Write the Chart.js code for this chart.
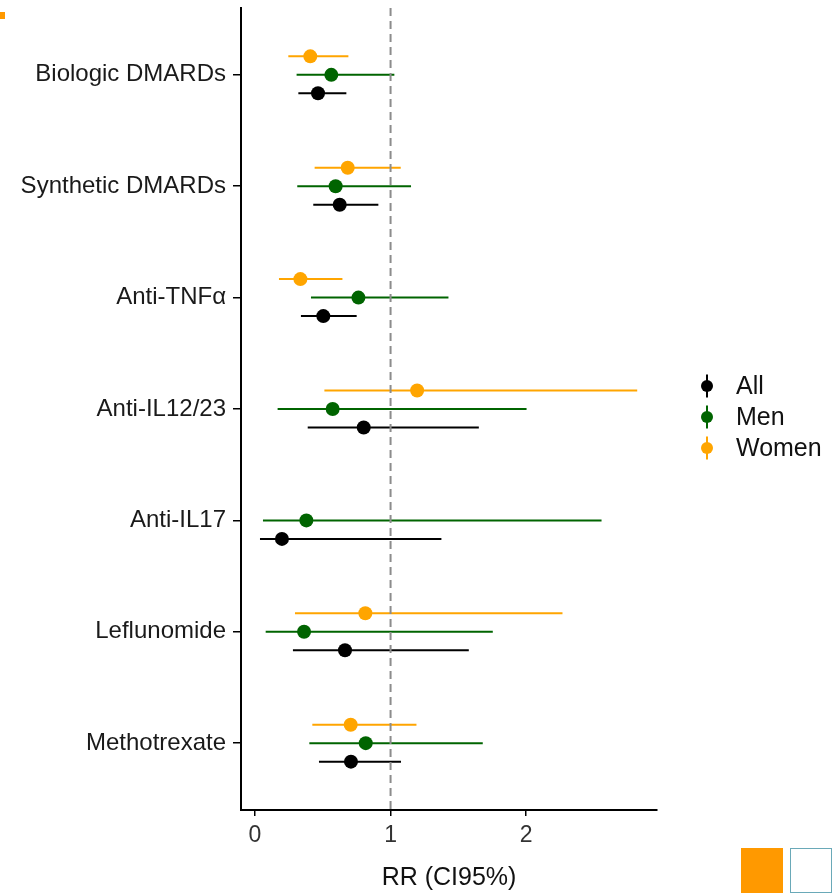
<!DOCTYPE html>
<html>
<head>
<meta charset="utf-8">
<script src="https://cdn.jsdelivr.net/npm/chart.js@4.4.1/dist/chart.umd.min.js"></script>
<style>
  body { margin: 0; background: #fff; }
  #wrap { position: relative; width: 840px; height: 893px; }
  .mark { position: absolute; }
</style>
</head>
<body>
<div id="wrap">
  <canvas id="forest" width="840" height="893"></canvas>
  <div class="mark" style="left:0;top:12px;width:5px;height:7px;background:#ff9900;"></div>
  <div class="mark" style="left:741px;top:848px;width:42px;height:45px;background:#ff9900;"></div>
  <div class="mark" style="left:790px;top:848px;width:40px;height:43px;border:1px solid #6aa9b8;background:#fff;"></div>
</div>
<script>
// drug groups, top to bottom
const categories = ['Biologic DMARDs', 'Synthetic DMARDs', 'Anti-TNFα', 'Anti-IL12/23', 'Anti-IL17', 'Leflunomide', 'Methotrexate'];

const allRR = [0.465, 0.625, 0.504, 0.802, 0.199, 0.664, 0.708];
const allLo = [0.320, 0.430, 0.339, 0.389, 0.037, 0.280, 0.472];
const allHi = [0.674, 0.910, 0.750, 1.651, 1.375, 1.577, 1.077];

const menRR = [0.563, 0.595, 0.763, 0.573, 0.379, 0.362, 0.817];
const menLo = [0.307, 0.312, 0.413, 0.167, 0.059, 0.079, 0.401];
const menHi = [1.028, 1.151, 1.427, 2.003, 2.556, 1.754, 1.680];

// no women estimate for Anti-IL17
const womenRR = [0.408, 0.684, 0.335, 1.196, null, 0.814, 0.706];
const womenLo = [0.246, 0.440, 0.177, 0.512, null, 0.295, 0.423];
const womenHi = [0.689, 1.075, 0.645, 2.819, null, 2.268, 1.191];

const xTicks = [0, 1, 2];
const refLine = 1;

const groups = [
  { label: 'All', color: '#000000', rr: allRR, lo: allLo, hi: allHi, dodge: 0.166 },
  { label: 'Men', color: '#006400', rr: menRR, lo: menLo, hi: menHi, dodge: 0 },
  { label: 'Women', color: '#FFA500', rr: womenRR, lo: womenLo, hi: womenHi, dodge: -0.166 }
];

const makePoints = (g) => {
  let pts = [];
  categories.forEach((c, i) => {
    if (g.rr[i] === null) return;
    pts.push({ x: g.rr[i], y: i + 1 + g.dodge, lo: g.lo[i], hi: g.hi[i] });
  });
  return pts;
};

// horizontal CI lines, drawn under the points
const ciBars = {
  id: 'ciBars',
  beforeDatasetsDraw: (chart) => {
    const ctx = chart.ctx;
    const xs = chart.scales.x, ys = chart.scales.y;
    ctx.save();
    chart.data.datasets.forEach((ds) => {
      ctx.strokeStyle = ds.backgroundColor;
      ctx.lineWidth = 2;
      ds.data.forEach((p) => {
        const y = ys.getPixelForValue(p.y);
        ctx.beginPath();
        ctx.moveTo(xs.getPixelForValue(p.lo), y);
        ctx.lineTo(xs.getPixelForValue(p.hi), y);
        ctx.stroke();
      });
    });
    ctx.restore();
  },
  afterDatasetsDraw: (chart) => {
    // dashed reference line at RR = 1
    const ctx = chart.ctx;
    const a = chart.chartArea;
    const x = chart.scales.x.getPixelForValue(refLine);
    ctx.save();
    ctx.strokeStyle = '#8c8c8c';
    ctx.lineWidth = 2;
    ctx.setLineDash([8, 5]);
    ctx.beginPath();
    ctx.moveTo(x, a.top);
    ctx.lineTo(x, a.bottom);
    ctx.stroke();
    ctx.restore();
  }
};

// legend with pointrange-style keys
const rangeLegend = {
  id: 'rangeLegend',
  afterDraw: (chart) => {
    const ctx = chart.ctx;
    const x0 = 707, y0 = 386, step = 31;
    ctx.save();
    groups.forEach((g, i) => {
      const y = y0 + i * step;
      ctx.strokeStyle = g.color;
      ctx.fillStyle = g.color;
      ctx.lineWidth = 2;
      ctx.beginPath();
      ctx.moveTo(x0, y - 11.5);
      ctx.lineTo(x0, y + 11.5);
      ctx.stroke();
      ctx.beginPath();
      ctx.arc(x0, y, 6, 0, Math.PI * 2);
      ctx.fill();
      ctx.fillStyle = '#111';
      ctx.font = '25px "Liberation Sans", Arial, sans-serif';
      ctx.textBaseline = 'middle';
      ctx.textAlign = 'left';
      ctx.fillText(g.label, 736, y + 1);
    });
    ctx.restore();
  }
};

new Chart(document.getElementById('forest'), {
  type: 'scatter',
  data: {
    datasets: groups.map((g) => ({
      label: g.label,
      data: makePoints(g),
      backgroundColor: g.color,
      borderWidth: 0,
      pointRadius: 7,
      pointHoverRadius: 7
    }))
  },
  options: {
    responsive: false,
    animation: false,
    events: [],
    layout: { padding: { top: 8, right: 183, bottom: 0, left: 0 } },
    plugins: {
      legend: { display: false },
      tooltip: { enabled: false }
    },
    scales: {
      x: {
        type: 'linear',
        min: -0.103,
        max: 2.965,
        afterBuildTicks: (scale) => { scale.ticks = xTicks.map((v) => ({ value: v })); },
        afterFit: (scale) => {
          scale.height = 83;
          scale.paddingLeft = 0;
          scale.paddingRight = 0;
        },
        grid: { display: true, drawOnChartArea: false, tickLength: 6, color: '#000', lineWidth: 1.5 },
        border: { display: true, color: '#000', width: 2 },
        ticks: {
          padding: 6,
          color: '#333',
          font: { family: '"Liberation Sans", Arial, sans-serif', size: 23 }
        },
        title: {
          display: true,
          text: 'RR (CI95%)',
          color: '#111',
          padding: { top: 0, bottom: 0 },
          font: { family: '"Liberation Sans", Arial, sans-serif', size: 25 }
        }
      },
      y: {
        type: 'linear',
        reverse: true,
        min: 0.4,
        max: 7.6,
        afterBuildTicks: (scale) => { scale.ticks = categories.map((c, i) => ({ value: i + 1 })); },
        afterFit: (scale) => {
          scale.width = 241;
          scale.paddingTop = 0;
          scale.paddingBottom = 0;
        },
        grid: { display: true, drawOnChartArea: false, tickLength: 8, color: '#000', lineWidth: 1.5 },
        border: { display: true, color: '#000', width: 2 },
        ticks: {
          padding: 7,
          color: '#1a1a1a',
          font: { family: '"Liberation Sans", Arial, sans-serif', size: 24 },
          callback: (v) => categories[Math.round(v) - 1]
        }
      }
    }
  },
  plugins: [ciBars, rangeLegend]
});
</script>
</body>
</html>
